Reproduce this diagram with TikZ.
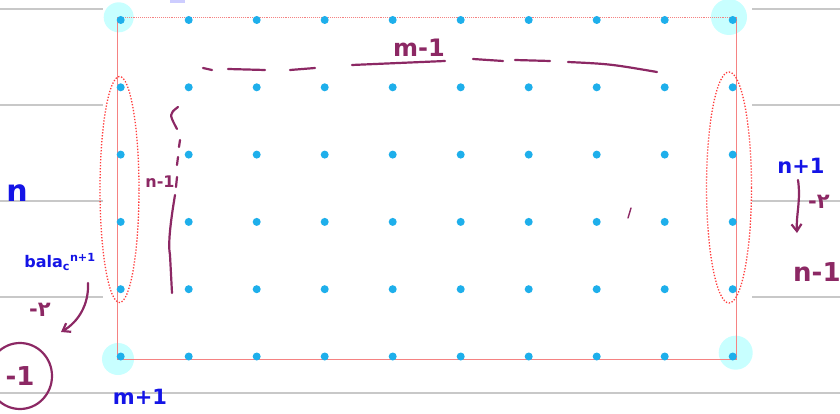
\documentclass[tikz,border=0pt]{standalone}
\usepackage{fontspec}
\setmainfont{DejaVu Sans}
\usetikzlibrary{arrows.meta, positioning}
\definecolor{mypurple}{RGB}{140,40,100}
\definecolor{myblue}{RGB}{20,20,230}
\definecolor{mydot}{RGB}{30,175,235}
\definecolor{myhalo}{RGB}{200,255,255}
\definecolor{myred}{RGB}{255,60,60}
\definecolor{myborder}{RGB}{245,130,130}
\definecolor{mygrey}{RGB}{200,200,200}
\definecolor{mylilac}{RGB}{205,205,255}
\tikzset{
  gridpt/.style={circle, fill=mydot, inner sep=0pt, minimum size=8pt},
  halo/.style={circle, fill=myhalo, inner sep=0pt},
  rule/.style={mygrey, line width=1.5pt},
  border/.style={myborder, line width=0.9pt},
  loop/.style={myred, line width=1.3pt, dash pattern=on 1.3pt off 1.7pt},
  pen/.style={mypurple, line width=2.2pt, line cap=round, line join=round},
  arrow/.style={pen, -{Straight Barb[length=7pt, width=10pt]}},
  bluetext/.style={text=myblue, inner sep=0pt, font=\fontsize{21}{24}\selectfont\bfseries},
  purpletext/.style={text=mypurple, inner sep=0pt, font=\fontsize{21}{24}\selectfont\bfseries}
}

\begin{document}
\begin{tikzpicture}[x=1pt, y=-1pt]
  \fill[white] (0,0) rectangle (840,414);
  \useasboundingbox (0,0) rectangle (840,414);

  % Notebook rules
  \foreach \yy in {9,105,201,297} {
    \draw[rule] (0,\yy) -- (103,\yy);
    \draw[rule] (752,\yy) -- (840,\yy);
  }
  \draw[rule] (0,393) -- (840,393);
  \fill[mylilac] (170,0) rectangle (185,3);

  % Corner highlights
  \node[halo, minimum size=30pt] (h-tl) at (118.7,17.3) {};
  \node[halo, minimum size=36pt] (h-tr) at (729,17) {};
  \node[halo, minimum size=32pt] (h-bl) at (118,359) {};
  \node[halo, minimum size=34pt] (h-br) at (735.7,352.7) {};

  % Frame
  \draw[border, densely dotted] (117.3,17.3) -- (736,17.3);
  \draw[border] (117.3,17.3) -- (117.3,359.3) -- (736,359.3) -- (736,17.3);

  % Grid points
  \foreach \i in {0,...,9} {
    \foreach \j in {0,...,5} {
      \node[gridpt] (p-\i-\j) at ({120.7+68*\i}, {20+67.3*\j}) {};
    }
  }

  % Boundary columns
  \draw[loop] (119.5,189.5) ellipse [x radius=19.5, y radius=113];
  \draw[loop] (729,187.5) ellipse [x radius=22.5, y radius=115.5];

  % Width mark
  \draw[pen] (203,68) -- (212,70);
  \draw[pen] (228,69) -- (265,70);
  \draw[pen] (290,70) -- (315,68);
  \draw[pen] (352,65) -- (445,61);
  \draw[pen] (473,59) -- (503,61);
  \draw[pen] (515,60) -- (550,61);
  \draw[pen] (568,62) .. controls (610,64) .. (657,72);
  \node[purpletext, font=\fontsize{24}{28}\selectfont\bfseries] (mlabel) at (419,48) {m-1};

  % Height mark
  \draw[pen] (178,107) .. controls (169,114) .. (177,129);
  \draw[pen] (180,140) -- (179,147);
  \draw[pen] (178,157) -- (177,165);
  \draw[pen] (177,177) -- (176,187);
  \draw[pen] (175,195) .. controls (170,225) and (168,245) .. (170,255) -- (172,293);
  \node[purpletext, font=\fontsize{16}{18}\selectfont\bfseries] (nlabel) at (160,182) {n-1};
  \draw[mypurple, line width=1.4pt, line cap=round] (628,218) -- (631,208);

  % Left notes
  \node[bluetext, font=\fontsize{30}{34}\selectfont\bfseries] (nleft) at (17,193) {n};
  \node[bluetext, font=\fontsize{16}{20}\selectfont\bfseries] (bala) at (60,262) {bala\textsubscript{c}\textsuperscript{n+1}};
  \node[purpletext] (stepl) at (40,310) {-۲};
  \node[purpletext, font=\fontsize{26}{30}\selectfont\bfseries] (minusone) at (20,376) {-1};
  \draw[pen] (minusone) ellipse [x radius=32, y radius=33];
  \coordinate (lstart) at (88,283);
  \coordinate (lend) at (61,332);
  \draw[arrow] (lstart) .. controls (89,305) and (78,322) .. (lend);
  \node[bluetext] (mplus) at (140,397) {m+1};

  % Right notes
  \node[bluetext] (nplus) at (801,166) {n+1};
  \node[purpletext, anchor=west] (stepr) at (808,202) {-۲};
  \node[purpletext, font=\fontsize{26}{30}\selectfont\bfseries, anchor=west] (nminus) at (793,272) {n-1};
  \coordinate (rstart) at (798,180);
  \draw[arrow] (rstart) .. controls (801,200) and (796,215) .. (797,233);
\end{tikzpicture}
\end{document}
